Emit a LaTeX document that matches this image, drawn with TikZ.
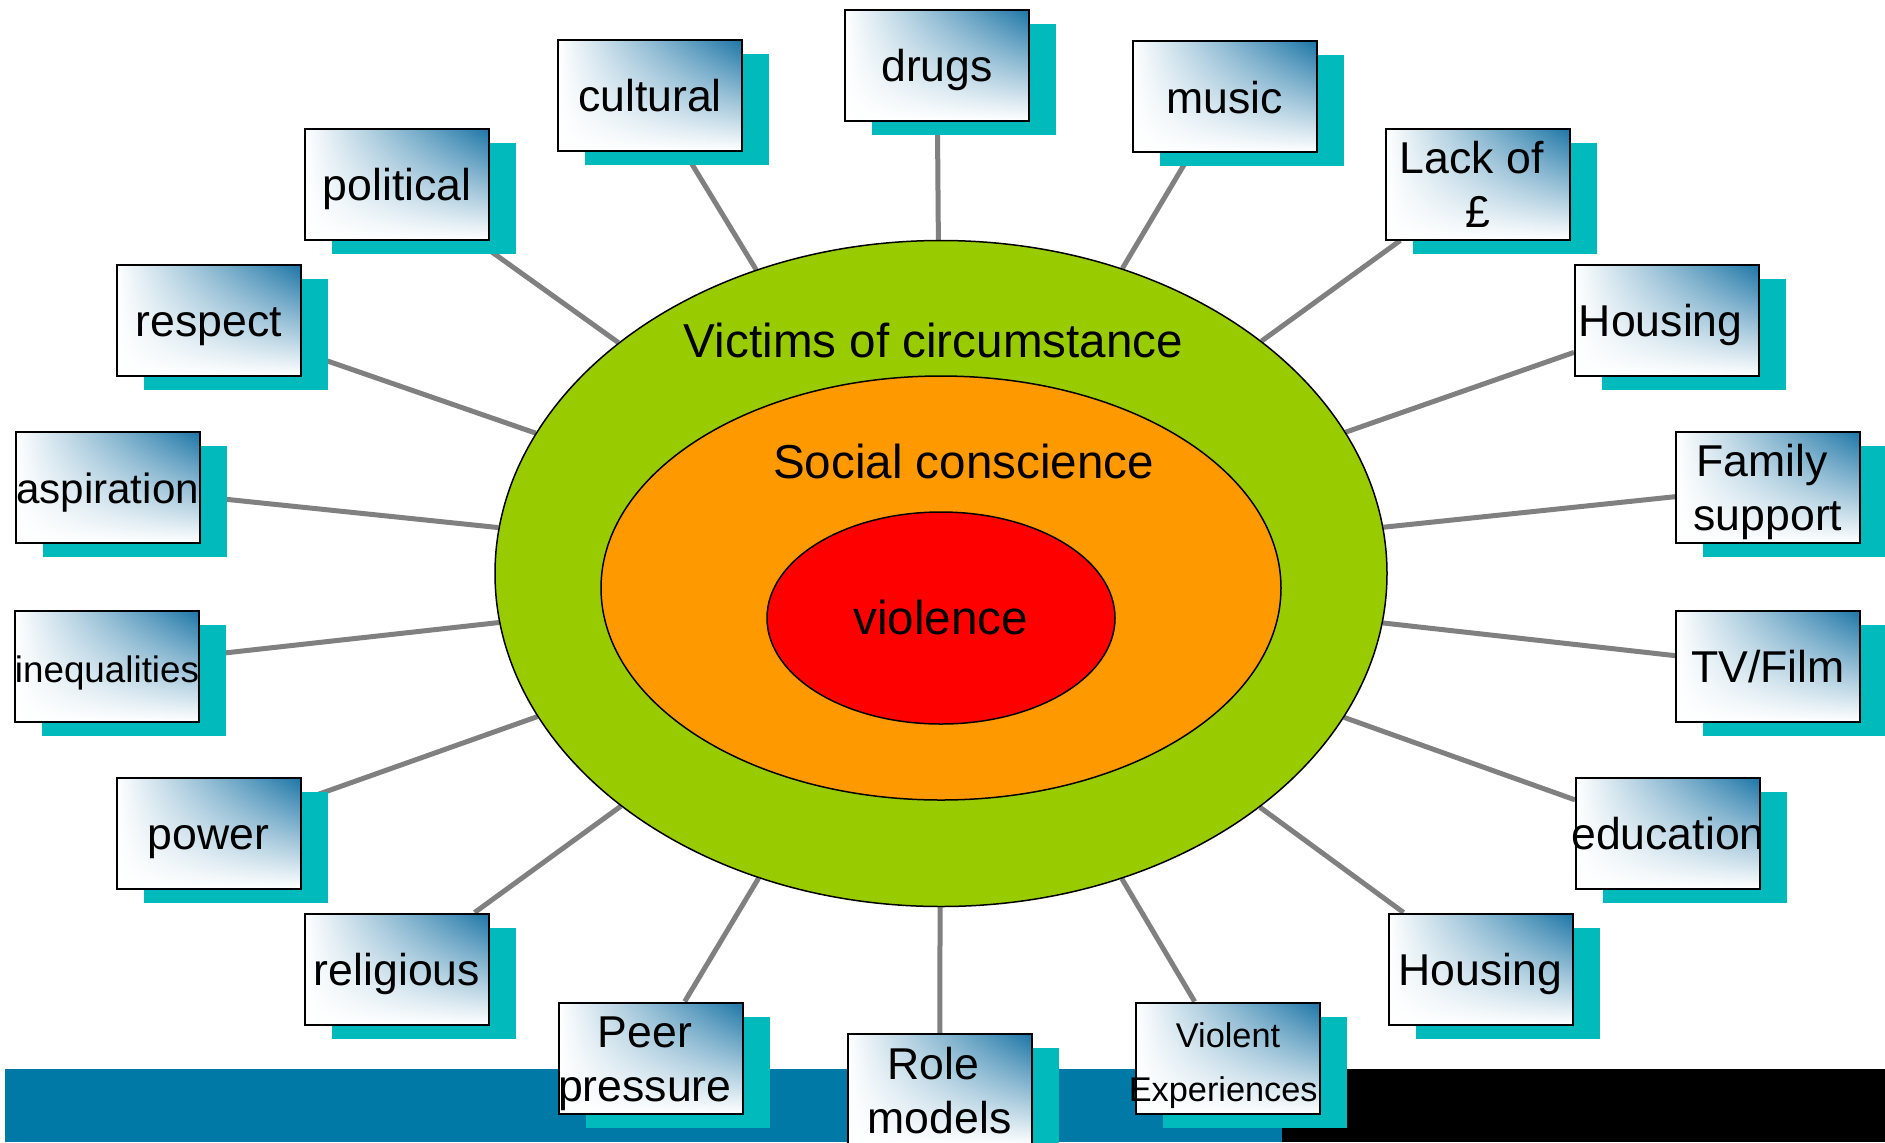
\documentclass[tikz,border=0pt]{standalone}
\usepackage{fontspec}
\setmainfont{Liberation Sans}
\usetikzlibrary{shapes.geometric,shadows,shadings}

\definecolor{ringgreen}{RGB}{153,204,0}
\definecolor{ringorange}{RGB}{255,153,0}
\definecolor{ringred}{RGB}{255,0,0}
\definecolor{factorblue}{RGB}{28,117,166}
\definecolor{factorshadow}{RGB}{0,186,187}
\definecolor{barblue}{RGB}{0,121,166}
\definecolor{spokegray}{RGB}{128,128,128}

\pgfdeclarelayer{background}
\pgfsetlayers{background,main}

\newcommand\factorstrut{\rule[-5.15pt]{0pt}{27pt}}
\newcommand\tailspace{\hspace*{0.28em}}

\tikzset{
  factor/.style={rectangle, draw=black, line width=1pt, inner sep=0pt,
    minimum width=92pt, minimum height=55.5pt, align=center,
    shading=bilinear interpolation,
    upper left=white, upper right=factorblue, lower left=white, lower right=white,
    drop shadow={shadow xshift=13.5pt, shadow yshift=-7pt, fill=factorshadow, opacity=1},
    font=\fontsize{22.3}{27}\selectfont,
    execute at begin node=\factorstrut, execute at end node=\factorstrut},
  ring/.style={ellipse, draw=black, line width=0.75pt, inner sep=0pt},
  ringlabel/.style={anchor=base, inner sep=0pt, font=\fontsize{23.8}{28}\selectfont},
  spoke/.style={draw=spokegray, line width=2.5pt}
}

\begin{document}
\begin{tikzpicture}[x=0.5pt, y=-0.5pt]
  \useasboundingbox (0,0) rectangle (1885,1142);

  \node[ring, fill=ringgreen, minimum width=446pt, minimum height=333pt] (circumstance) at (941,573.5) {};
  \node[ring, fill=ringorange, minimum width=340pt, minimum height=212pt] (conscience) at (941,588) {};
  \node[ring, fill=ringred, minimum width=174pt, minimum height=106pt] (violence) at (941,618) {};

  \node[ringlabel] (circumstancetext) at (933.5,357) {Victims of circumstance};
  \node[ringlabel] (consciencetext) at (963.5,478.5) {Social conscience};
  \node[ringlabel] (violencetext) at (940.7,634.8) {violence};

  \node[factor] (drugs) at (937,65) {drugs};
  \node[factor] (cultural) at (650,95) {cultural};
  \node[factor] (music) at (1224.5,96.5) {music};
  \node[factor] (political) at (397,184) {political};
  \node[factor] (money) at (1478,184) {\factorstrut Lack of\tailspace\\£};
  \node[factor] (respect) at (208.6,320) {respect};
  \node[factor] (housingtop) at (1667,320) {Housing\tailspace};
  \node[factor, font=\fontsize{21.1}{27}\selectfont] (aspiration) at (107.5,487) {aspiration};
  \node[factor] (family) at (1768,487) {\factorstrut Family\tailspace\\support};
  \node[factor, font=\fontsize{18.4}{27}\selectfont] (inequalities) at (107,666) {inequalities};
  \node[factor] (tvfilm) at (1768,666) {TV/Film};
  \node[factor] (power) at (208.6,833) {power};
  \node[factor] (education) at (1668,833) {\makebox[0pt]{education}};
  \node[factor] (religious) at (397,969) {religious};
  \node[factor] (housingbottom) at (1480.5,969) {Housing};
  \node[factor] (peer) at (651,1058) {\factorstrut Peer\tailspace\\\makebox[0pt]{pressure\tailspace}};
  \node[factor] (rolemodels) at (939.6,1089.5) {\factorstrut Role\tailspace\\models};
  \node[factor, font=\fontsize{17.15}{27}\selectfont] (experiences) at (1228,1058) {\factorstrut Violent\\\makebox[0pt]{Experiences\tailspace}};

  \begin{pgfonlayer}{background}
    \fill[barblue] (5,1069) rectangle (1282,1142);
    \fill[black] (1282,1069) rectangle (1885,1142);
    \foreach \f in {drugs,cultural,music,political,money,respect,housingtop,aspiration,family,
      inequalities,tvfilm,power,education,religious,housingbottom,peer,rolemodels,experiences}
      \draw[spoke] (circumstance) -- (\f);
  \end{pgfonlayer}
\end{tikzpicture}
\end{document}
